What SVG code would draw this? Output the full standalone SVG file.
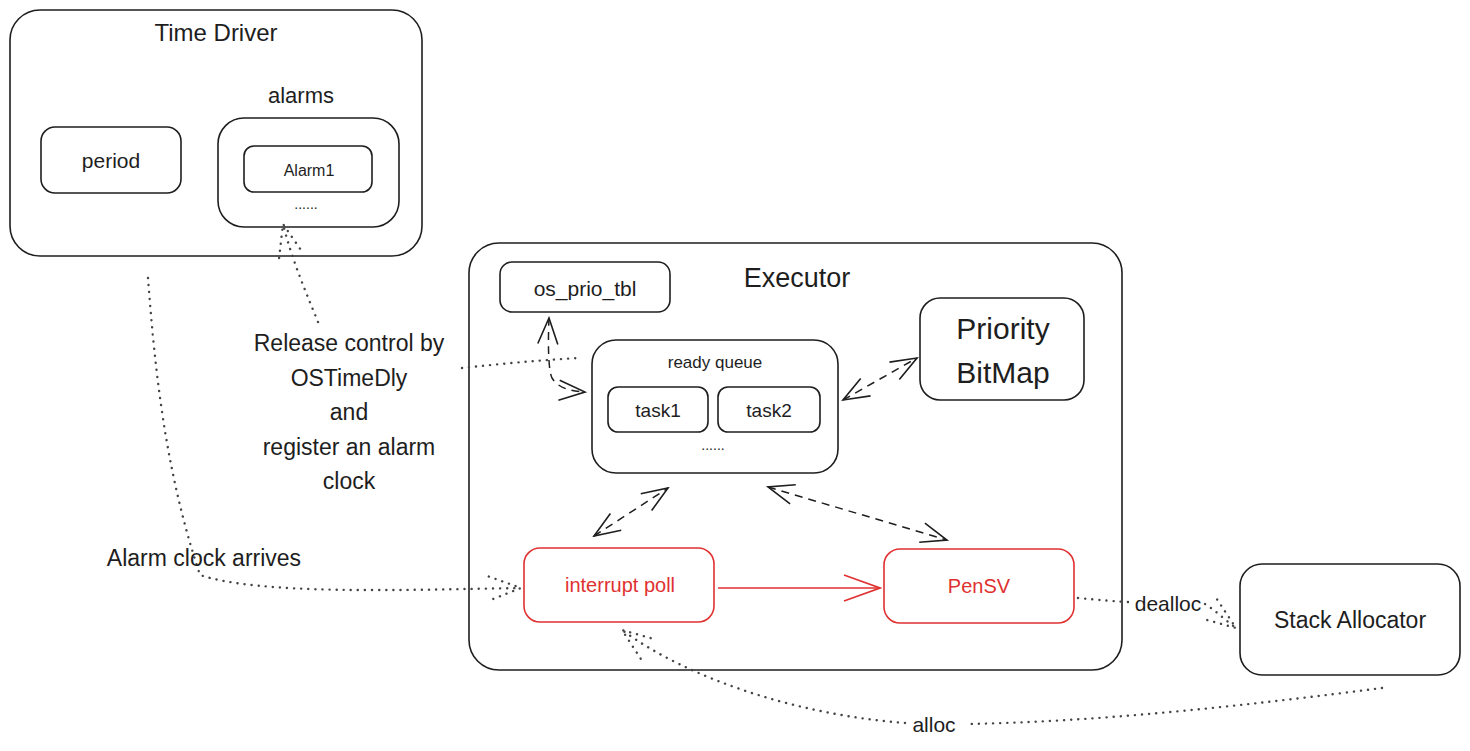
<svg xmlns="http://www.w3.org/2000/svg" width="1470" height="751" viewBox="0 0 1470 751">
<style>
.box{fill:none;stroke:#1e1e1e;stroke-width:1.6}
.red{fill:none;stroke:#e03131;stroke-width:1.6}
text{font-family:"Liberation Sans",Arial,sans-serif;fill:#1e1e1e;text-anchor:middle;dominant-baseline:central}
.rt{fill:#e03131}
.dash{fill:none;stroke:#1e1e1e;stroke-width:1.5;stroke-dasharray:8 6}
.dot{fill:none;stroke:#444;stroke-width:2.4;stroke-dasharray:0.1 7;stroke-linecap:round}
.rline{fill:none;stroke:#e03131;stroke-width:1.6}
</style>
<defs>
<marker id="ah" viewBox="0 0 30 24" refX="28" refY="12" markerWidth="30" markerHeight="24" markerUnits="userSpaceOnUse" orient="auto-start-reverse">
<path d="M2,2 L28,12 L2,22" fill="none" stroke="#1e1e1e" stroke-width="1.6"/>
</marker>
<marker id="ahr" viewBox="0 0 40 30" refX="38" refY="15" markerWidth="40" markerHeight="30" markerUnits="userSpaceOnUse" orient="auto">
<path d="M2,2 L38,15 L2,28" fill="none" stroke="#e03131" stroke-width="1.6"/>
</marker>
<marker id="ahd" viewBox="0 0 36 30" refX="34" refY="15" markerWidth="36" markerHeight="30" markerUnits="userSpaceOnUse" orient="auto">
<path d="M2,3 L34,15 L2,27" fill="none" stroke="#444" stroke-width="2.4" stroke-dasharray="0.1 7" stroke-linecap="round"/>
</marker>
</defs>

<g id="time-driver">
<rect class="box" x="10" y="10" width="412" height="246" rx="30"/>
<text x="216" y="32" font-size="24">Time Driver</text>
</g>
<g id="period">
<rect class="box" x="41" y="127" width="140" height="66" rx="14"/>
<text x="111" y="160" font-size="21">period</text>
</g>
<g id="alarms">
<text x="301" y="95" font-size="22">alarms</text>
<rect class="box" x="218" y="118" width="181" height="109" rx="26"/>
<text x="306" y="204" font-size="14">......</text>
</g>
<g id="alarm1">
<rect class="box" x="244" y="146" width="128" height="46" rx="10"/>
<text x="309" y="170" font-size="16">Alarm1</text>
</g>

<g id="executor">
<rect class="box" x="469" y="243" width="653" height="427" rx="30"/>
<text x="797" y="278" font-size="27">Executor</text>
</g>
<g id="os-prio-tbl">
<rect class="box" x="500" y="262" width="170" height="50" rx="12"/>
<text x="585" y="288" font-size="21">os_prio_tbl</text>
</g>
<g id="ready-queue">
<rect class="box" x="592" y="340" width="246" height="133" rx="24"/>
<text x="715" y="362" font-size="17">ready queue</text>
<text x="713" y="445" font-size="14">......</text>
</g>
<g id="task1">
<rect class="box" x="608" y="387" width="100" height="45" rx="10"/>
<text x="658" y="410" font-size="19">task1</text>
</g>
<g id="task2">
<rect class="box" x="718" y="387" width="102" height="45" rx="10"/>
<text x="769" y="410" font-size="19">task2</text>
</g>
<g id="priority-bitmap">
<rect class="box" x="920" y="298" width="164" height="102" rx="20"/>
<text x="1003" y="328" font-size="30">Priority</text>
<text x="1003" y="372" font-size="30">BitMap</text>
</g>
<g id="interrupt-poll">
<rect class="red" x="524" y="548" width="190" height="74" rx="16"/>
<text class="rt" x="620" y="585" font-size="20">interrupt poll</text>
</g>
<g id="pensv">
<rect class="red" x="884" y="549" width="190" height="74" rx="16"/>
<text class="rt" x="979" y="586" font-size="20">PenSV</text>
</g>
<g id="stack-allocator">
<rect class="box" x="1240" y="564" width="220" height="111" rx="22"/>
<text x="1350" y="620" font-size="23">Stack Allocator</text>
</g>

<g id="connectors">
<path class="rline" d="M718,588 L880,588" marker-end="url(#ahr)"/>
<path class="dash" d="M549,318 C548,340 548,370 552,378 C558,388 570,391 585,392" marker-start="url(#ah)" marker-end="url(#ah)"/>
<path class="dash" d="M843,400 L917,358" marker-start="url(#ah)" marker-end="url(#ah)"/>
<path class="dash" d="M594,536 L668,488" marker-start="url(#ah)" marker-end="url(#ah)"/>
<path class="dash" d="M768,487 L947,540" marker-start="url(#ah)" marker-end="url(#ah)"/>
<path class="dot" d="M318,322 C305,290 292,260 283,224" marker-end="url(#ahd)"/>
<path class="dot" d="M462,368 C500,364 540,360 580,358"/>
<path class="dot" d="M148,278 C155,370 165,470 200,575 C260,595 400,590 521,588" marker-end="url(#ahd)"/>
<path class="dot" d="M1078,598 C1100,600 1120,602 1132,602"/>
<path class="dot" d="M1205,604 C1215,610 1225,620 1236,628" marker-end="url(#ahd)"/>
<path class="dot" d="M1382,688 C1250,705 1100,722 965,724"/>
<path class="dot" d="M905,723 C800,715 690,680 622,630" marker-end="url(#ahd)"/>
</g>

<g id="labels">
<text x="349" y="343" font-size="23">Release control by</text>
<text x="349" y="378" font-size="23">OSTimeDly</text>
<text x="349" y="412" font-size="23">and</text>
<text x="349" y="447" font-size="23">register an alarm</text>
<text x="349" y="481" font-size="23">clock</text>
<text x="204" y="558" font-size="23">Alarm clock arrives</text>
<text x="1168" y="603" font-size="21">dealloc</text>
<text x="934" y="724" font-size="21">alloc</text>
</g>
</svg>
